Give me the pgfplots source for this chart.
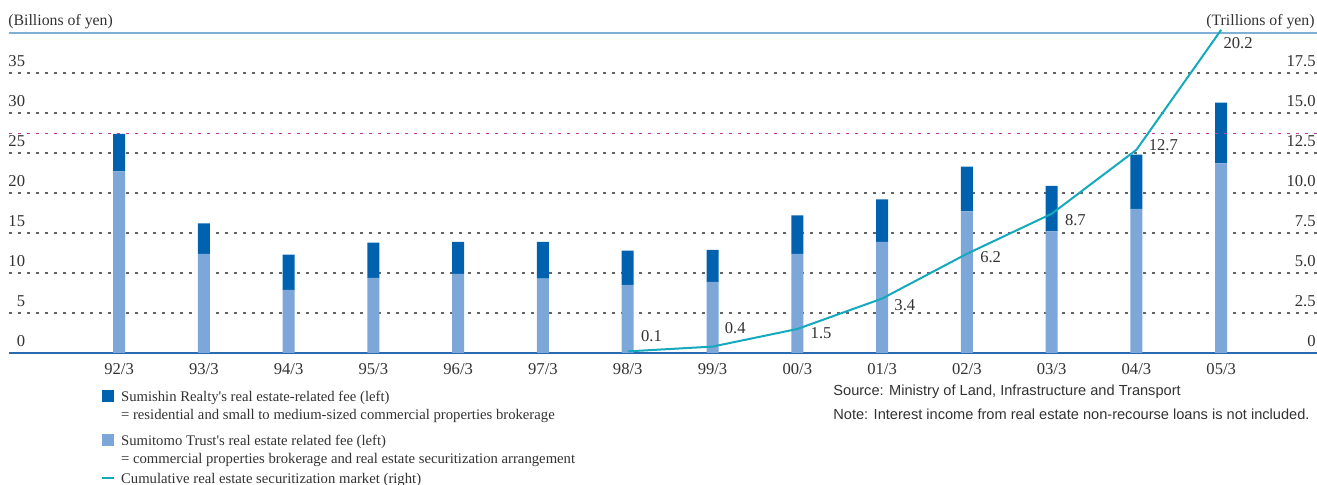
\documentclass[border=0pt]{standalone}
\usepackage{fontspec}
\setmainfont{Liberation Serif}
\newfontfamily\notefont{Liberation Sans}
\usepackage{pgfplots}
\usepackage{pgfplotstable}
\pgfplotsset{compat=1.18}

\definecolor{realtyblue}{RGB}{0,98,175}
\definecolor{trustblue}{RGB}{125,167,216}
\definecolor{marketteal}{RGB}{20,169,188}
\definecolor{topblue}{RGB}{125,175,215}
\definecolor{baseblue}{RGB}{40,105,175}
\definecolor{gridgray}{RGB}{100,100,100}
\definecolor{refpink}{RGB}{200,60,160}
\definecolor{textgray}{RGB}{50,50,50}

% fees in billions of yen, fiscal years ending March 1992-2005
\pgfplotstableread{
idx trust realty
0  22.7 4.7
1  12.4 3.8
2  7.9  4.4
3  9.4  4.4
4  9.9  4.0
5  9.3  4.6
6  8.5  4.3
7  8.9  4.0
8  12.4 4.8
9  13.9 5.3
10 17.7 5.6
11 15.2 5.7
12 18.0 6.8
13 23.7 7.6
}\feetable

% cumulative securitization market in trillions of yen
\pgfplotstableread{
idx value
6  0.1
7  0.4
8  1.5
9  3.4
10 6.2
11 8.7
12 12.7
13 20.2
}\markettable

\pgfplotsset{
  chartframe/.style={
    scale only axis, width=654pt, height=160pt,
    xmin=-1.298, xmax=14.13, clip=false,
    axis line style={draw=none}, tick style={draw=none},
    /pgf/number format/assume math mode=true,
    ticklabel style={font=\fontsize{8.3pt}{9pt}\selectfont, text=textgray, inner sep=0pt},
  },
}

\begin{document}
\begin{tikzpicture}
\path[use as bounding box] (-4.5pt,-66pt) rectangle (654pt,176.5pt);

\begin{axis}[chartframe,
  ymin=0, ymax=40,
  ytick={5,10,...,35},
  extra y ticks={0}, extra y tick style={grid=none},
  yticklabel style={anchor=base east, xshift=8.25pt, yshift=3pt},
  ymajorgrids,
  grid style={dash pattern=on 1.6pt off 2.9pt, color=gridgray, line width=0.7pt},
  xtick={0,...,13},
  xticklabels={92/3,93/3,94/3,95/3,96/3,97/3,98/3,99/3,00/3,01/3,02/3,03/3,04/3,05/3},
  xticklabel style={anchor=base, yshift=-11pt},
  ybar stacked, bar width=6pt,
]
\draw[refpink, dash pattern=on 1.6pt off 2.9pt, line width=0.7pt]
  (axis cs:-1.298,27.4) -- (axis cs:14.13,27.4);
\addplot[fill=trustblue, draw=none] table[x=idx, y=trust] {\feetable};
\addplot[fill=realtyblue, draw=none] table[x=idx, y=realty] {\feetable};
\draw[topblue, line width=1pt] (rel axis cs:0,1) -- (rel axis cs:1,1);
\draw[baseblue, line width=0.6pt] (rel axis cs:0,0) -- (rel axis cs:1,0);
\node[anchor=base west, inner sep=0pt, text=textgray, font=\fontsize{7.9pt}{9pt}\selectfont]
  at (rel axis cs:0,1) [xshift=-0.5pt, yshift=3.5pt] {(Billions of yen)};
\node[anchor=base east, inner sep=0pt, text=textgray, font=\fontsize{7.9pt}{9pt}\selectfont]
  at (rel axis cs:1,1) [xshift=-1pt, yshift=3.5pt] {(Trillions of yen)};
\end{axis}

\begin{axis}[chartframe,
  ymin=0, ymax=20,
  ytick={0,2.5,5,7.5,10,12.5,15,17.5},
  yticklabels={0,2.5,5.0,7.5,10.0,12.5,15.0,17.5},
  yticklabel pos=right,
  yticklabel style={anchor=base east, xshift=-0.5pt, yshift=3pt},
  xtick=\empty,
]
\addplot[marketteal, line width=1pt, mark=none] table[x=idx, y=value] {\markettable};
\begin{scope}[every node/.style={anchor=base west, inner sep=0pt, text=textgray,
    font=\fontsize{8.3pt}{9pt}\selectfont}]
  \node[xshift=6.5pt, yshift=5pt]    at (axis cs:6,0.1)   {0.1};
  \node[xshift=6pt,   yshift=6.5pt]  at (axis cs:7,0.4)   {0.4};
  \node[xshift=6.5pt, yshift=-5pt]   at (axis cs:8,1.5)   {1.5};
  \node[xshift=6pt,   yshift=-6pt]   at (axis cs:9,3.4)   {3.4};
  \node[xshift=6.5pt, yshift=-4.5pt] at (axis cs:10,6.2)  {6.2};
  \node[xshift=6.5pt, yshift=-6pt]   at (axis cs:11,8.7)  {8.7};
  \node[xshift=6pt,   yshift=-0.5pt] at (axis cs:12,12.7) {12.7};
  \node[xshift=1pt,   yshift=-9.5pt] at (axis cs:13,20.2) {20.2};
\end{scope}
\end{axis}

% legend and notes below the plot (axis box starts at the origin)
\fill[realtyblue] (46.5pt,-24.35pt) rectangle (52.5pt,-18.5pt);
\fill[trustblue] (46.5pt,-46.5pt) rectangle (52.5pt,-40.65pt);
\draw[marketteal, line width=1pt] (46.5pt,-62.5pt) -- (52.5pt,-62.5pt);
\begin{scope}[every node/.style={anchor=base west, inner sep=0pt, text=textgray,
    font=\fontsize{7.35pt}{8pt}\selectfont}]
  \node at (55.85pt,-24.35pt) {Sumishin Realty\textquotesingle s real estate-related fee (left)};
  \node at (55.85pt,-33.5pt) {= residential and small to medium-sized commercial properties brokerage};
  \node at (55.85pt,-46.5pt) {Sumitomo Trust\textquotesingle s real estate related fee (left)};
  \node at (55.85pt,-55.15pt) {= commercial properties brokerage and real estate securitization arrangement};
  \node at (55.85pt,-65.25pt) {Cumulative real estate securitization market (right)};
\end{scope}
\begin{scope}[every node/.style={anchor=base west, inner sep=0pt, text=textgray,
    font=\notefont\fontsize{7.3pt}{8pt}\selectfont}]
  \node at (412pt,-21.25pt) {Source: Ministry of Land, Infrastructure and Transport};
  \node at (412pt,-33.5pt) {Note: Interest income from real estate non-recourse loans is not included.};
\end{scope}
\end{tikzpicture}
\end{document}
